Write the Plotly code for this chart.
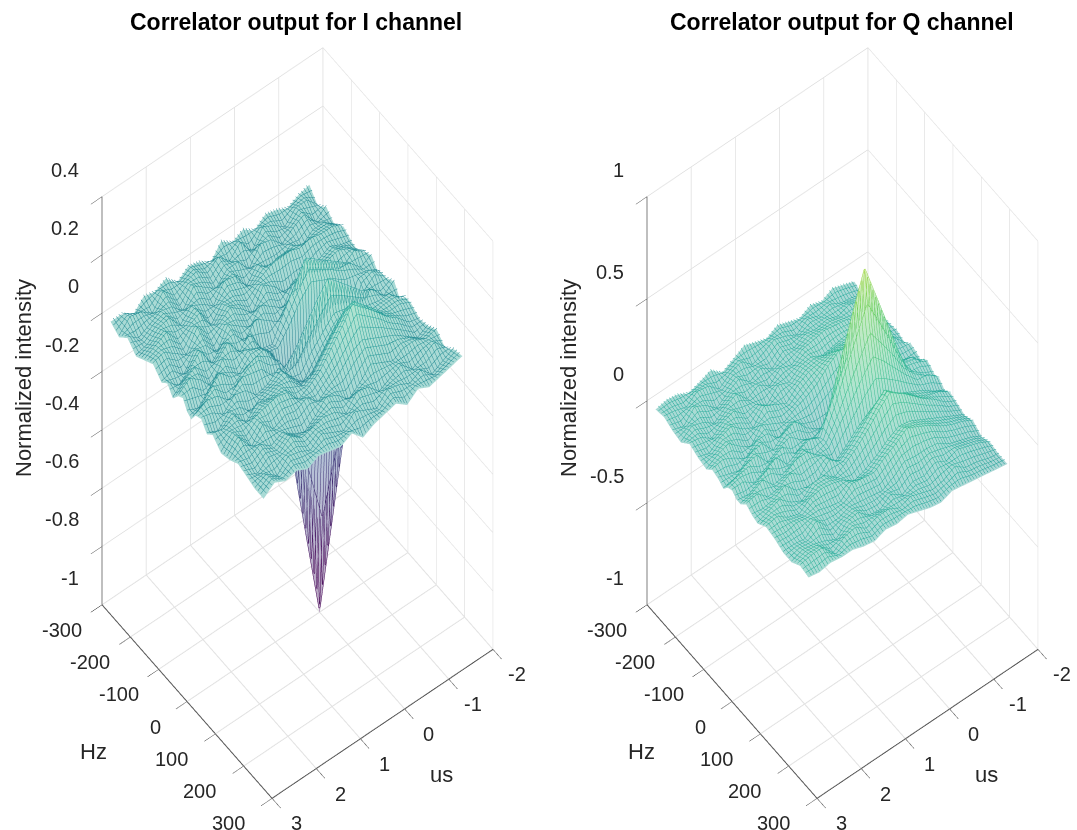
import plotly.graph_objects as go

us_values = [-1.5,-1.25,-1,-.75,-.5,-.25,0,.25,.5,.75,1,1.25,1.5,1.75,2,2.25,2.5,2.75,3]
hz_values = [-270,-240,-210,-180,-150,-120,-90,-70,-50,-30,-15,0,15,30,50,70,90,120,150,180,210,240,270]

i_channel = [
[.02,-.02,.01,-.02,.01,-.01,-.02,.01,.02,-.01,.0,.0,.01,.02,-.02,.01,.01,-.01,.0,.02,-.01,.02,.03],
[.01,.02,-.02,.01,.03,.0,.02,.04,.0,.01,.03,.03,.0,-.01,.02,.03,.03,.0,-.02,.01,.03,.0,.02],
[-.01,.02,.03,.01,.03,.02,.04,.01,.04,.02,.02,.0,.02,.04,.02,.03,.03,.04,.01,.03,.01,-.02,.01],
[.01,-.02,.01,-.02,.04,.0,.03,-.01,.07,.03,-.1,-.25,-.12,.06,.03,.02,.05,.07,.04,.03,-.01,.02,.0],
[.02,.01,-.02,.01,.03,-.02,.04,-.02,.1,.06,-.24,-.5,-.26,.1,.05,.04,.08,.12,.06,.01,.03,.0,.02],
[-.01,.03,.02,-.02,.05,-.03,.03,-.04,.13,.08,-.36,-.75,-.38,.14,.07,.05,.11,.16,.08,.03,.01,.02,-.01],
[.02,-.03,.03,-.02,.05,-.04,.04,-.05,.16,.1,-.45,-1,-.5,.18,.08,.06,.14,.2,.1,.05,-.01,.03,.02],
[.0,.03,-.03,.02,.03,.01,-.03,.02,.09,.06,-.36,-.76,-.38,.13,.04,.02,.1,.14,.08,.01,.03,-.01,.01],
[.03,-.01,.02,-.03,.01,.04,.0,-.03,.02,.0,-.26,-.52,-.27,.07,.0,-.03,.05,.09,.04,-.02,.04,.01,.0],
[-.02,.03,.02,.03,.0,-.03,.03,.0,-.06,-.05,-.13,-.26,-.14,.01,-.05,-.08,.0,.04,.02,.02,-.01,.03,-.02],
[.01,.0,-.02,.04,.02,.01,-.02,.03,-.05,-.04,-.02,-.03,-.02,-.03,-.04,-.02,-.02,.01,-.01,.04,.02,-.01,.02],
[.02,.03,.01,-.02,.02,.04,.01,-.02,.03,.0,.02,.03,.01,-.03,.02,.03,.02,-.01,.03,.0,.03,.01,.0],
[-.01,.02,.04,.01,-.03,.01,.04,.03,-.01,.02,.03,.02,.05,.02,-.01,.01,.03,.04,.01,-.03,.02,.03,.01],
[.03,.0,-.02,.03,.04,.0,-.03,.02,.05,.01,-.02,.0,.04,.03,-.02,.0,.01,.05,.02,-.01,.01,.0,.02],
[.01,.04,.02,-.01,.02,.05,.02,-.02,.01,.04,.02,.01,-.01,.04,.02,-.03,.02,.04,.0,.02,.04,.02,.0],
[.02,-.01,.03,.04,.0,-.02,.03,.05,.0,-.03,.03,.05,.01,-.01,.03,.01,-.02,.03,.04,.0,.01,.03,.02],
[-.02,.02,.01,.03,.05,.01,-.03,.01,.04,.02,-.02,.02,.05,.03,-.01,.02,.03,.01,-.01,.03,.02,-.01,.01],
[.01,.03,-.01,.0,.03,.04,.01,-.02,.02,.05,.02,-.02,.01,.04,.02,-.02,.01,.03,.04,.01,-.01,.02,.03],
[.01,-.01,.02,-.01,.01,.03,.0,.02,-.01,.02,.03,.0,-.01,.02,.03,.0,.02,-.01,.0,.02,.01,.0,.0],
]

q_channel = [
[-.02,-.04,-.02,-.05,-.03,-.02,-.04,-.01,-.02,-.04,.0,-.01,-.03,-.02,-.05,-.03,-.04,-.06,-.04,-.07,-.05,-.06,-.06],
[.0,-.02,.01,-.03,.02,-.01,.02,.0,-.02,.02,.03,.02,.0,.03,-.02,.01,-.01,-.03,-.01,-.04,-.02,-.05,-.05],
[.02,-.01,.03,.01,.04,.02,.05,.02,.0,.03,.05,.03,.06,.04,.02,.03,.04,.0,.01,-.02,.0,-.03,-.04],
[-.01,.02,.01,.04,.03,.06,.08,.04,-.03,-.01,.1,.18,.13,.1,.05,.06,.08,.03,.04,.0,.02,-.02,-.03],
[.01,.0,.03,.05,.04,.07,.1,.05,-.06,-.04,.18,.35,.25,.17,.08,.11,.13,.06,.08,.04,.0,.02,-.02],
[-.02,.02,.02,.06,.03,.08,.12,.06,-.08,-.06,.24,.52,.35,.24,.1,.15,.18,.09,.11,.05,.03,-.01,-.01],
[.0,-.02,.03,.05,.02,.08,.14,.06,-.1,-.08,.3,.69,.45,.3,.12,.2,.22,.1,.14,.05,.0,-.02,-.03],
[.02,.01,.0,.04,.05,.07,.1,.03,-.09,-.07,.22,.52,.34,.23,.09,.15,.17,.07,.1,.06,.01,.0,-.02],
[-.01,.03,.02,.0,.04,.06,.05,.0,-.1,-.06,.14,.34,.23,.15,.05,.09,.11,.03,.07,.02,-.02,.02,.0],
[.01,.0,-.03,.02,.0,.03,.02,-.03,-.07,-.04,.05,.16,.11,.08,.0,.04,.06,.0,.03,-.01,.02,.0,.02],
[.03,-.02,.01,-.03,.02,-.02,.0,-.02,-.03,-.05,-.02,.0,.01,.0,-.04,.0,.02,-.02,.04,.0,-.02,.03,.01],
[.0,.03,-.02,.01,-.04,.01,-.03,.0,.04,-.02,.0,.03,-.02,.0,.03,.04,-.01,.02,.05,.01,-.01,.03,.02],
[-.03,.01,.03,-.02,.0,.04,.0,-.04,.02,.03,-.03,.01,.04,.05,.02,-.02,.03,.04,.0,.02,.04,.01,.0],
[.02,-.03,.0,.04,-.01,-.03,.03,.02,-.03,.01,.04,-.02,.0,.05,.01,-.02,.03,.05,.01,.0,.03,.05,.01],
[.0,.02,-.04,.01,.04,.0,-.04,.02,.04,-.02,.01,.05,-.01,.01,.05,.0,-.02,.04,.03,.0,-.02,.04,.03],
[-.02,.03,.01,-.03,.02,.05,.0,-.03,.03,.05,-.01,.02,.06,.0,.02,.06,.01,.0,.03,.06,.01,.0,.03],
[.01,-.01,.04,.01,-.02,.03,.05,.01,-.02,.04,.05,.0,.03,.06,.01,.03,.06,.02,.04,.01,.03,.06,.04],
[.02,.01,-.02,.03,.02,-.01,.03,.04,.0,.01,.05,.04,.0,.03,.06,.02,.04,.06,.03,.02,.04,.06,.03],
[.01,.02,.0,-.01,.03,.01,.0,.03,.02,.0,.03,.04,.02,.02,.05,.03,.02,.05,.04,.02,.02,.05,.04],
]

i_ticks = [-1,-.8,-.6,-.4,-.2,0,.2,.4]
i_tick_text = ['-1','-0.8','-0.6','-0.4','-0.2','0','0.2','0.4']
q_ticks = [-1,-.5,0,.5,1]
q_tick_text = ['-1','-0.5','0','0.5','1']
us_ticks = [-2,-1,0,1,2,3]
hz_ticks = [-300,-200,-100,0,100,200,300]
titles = ['Correlator output for I channel','Correlator output for Q channel']

TXT = '#262626'
FONT = 'Liberation Sans'
EYE = (.294,.382,.876)
PALE = [[0,'#bba6c2'],[.25,'#b6c0d6'],[.5,'#a9dad5'],[.6,'#b0e4cf'],[.75,'#c4ebc2'],[1,'#fef5a8']]
WIRE = [[0,'#440154'],[.25,'#3b528b'],[.45,'#2a9d9a'],[.5,'#2fae9f'],[.6,'#3cc08f'],[.75,'#6fd05a'],[1,'#fde725']]
FILL_DROP = .006

def transpose(z):
    return [[z[r][c] for r in range(len(z))] for c in range(len(z[0]))]

def traces(z, scene):
    zt = transpose(z)
    fill = go.Surface(x=us_values,y=hz_values,z=[[v-FILL_DROP for v in row] for row in zt],cmin=-1,cmax=1,
        colorscale=PALE,showscale=False,scene=scene,hoverinfo='skip',
        lighting=dict(ambient=1,diffuse=0,specular=0,roughness=1,fresnel=0))
    wire = go.Surface(x=us_values,y=hz_values,z=zt,
        colorscale=WIRE,cmin=-1,cmax=1,showscale=False,scene=scene,hoverinfo='skip',hidesurface=True,
        contours=dict(
            x=dict(show=True,start=-1.5,end=3,size=.0625,usecolormap=True,width=2,highlight=False),
            y=dict(show=True,start=-270,end=270,size=10,usecolormap=True,width=2,highlight=False),
            z=dict(show=False,highlight=False)))
    return [fill,wire]

def ann(x,y,z,text,xa,xs,ys):
    return dict(x=x,y=y,z=z,text=text,showarrow=False,xanchor=xa,yanchor='middle',xshift=xs,yshift=ys,
                font=dict(family=FONT,size=20,color=TXT))

def hz_shift(v):
    return -40 if v<0 else (-32 if v==0 else -44)

def scene(domain, zticks, ztext, zrange):
    anns = [ann(v,300,zrange[0],str(v),'center',24,-25) for v in us_ticks]
    anns += [ann(3,v,zrange[0],str(v),'center',hz_shift(v),-25) for v in hz_ticks]
    anns += [ann(3,-300,v,t,'right',-21,27) for v,t in zip(zticks,ztext)]
    ax = dict(showbackground=False,showspikes=False,zeroline=False,gridcolor='#e2e2e2',gridwidth=2,
              showline=True,linecolor='#555555',linewidth=2,ticks='outside',tickcolor='#444444',ticklen=14,
              showticklabels=False,title=dict(text=''))
    return dict(domain=domain,
        xaxis=dict(ax,range=[-2,3],tickvals=us_ticks),
        yaxis=dict(ax,range=[-300,300],tickvals=hz_ticks),
        zaxis=dict(ax,range=zrange,tickvals=zticks),
        aspectmode='manual',aspectratio=dict(x=.685,y=.685,z=2.08),
        camera=dict(projection=dict(type='orthographic'),up=dict(x=0,y=0,z=1),center=dict(x=0,y=0,z=0),
                    eye=dict(x=EYE[0],y=EYE[1],z=EYE[2])),
        annotations=anns,bgcolor='white')

fig = go.Figure()
for t in traces(i_channel,'scene'): fig.add_trace(t)
for t in traces(q_channel,'scene2'): fig.add_trace(t)
H=830; W=1077
ydom=[0,(H-16)/H]
def lab(text,x,y,size=22,color=TXT,angle=0):
    return dict(text=text,x=x/W,y=1-y/H,xref='paper',yref='paper',xanchor='center',yanchor='middle',showarrow=False,
                textangle=angle,font=dict(family=FONT,size=size,color=color))
fig.update_layout(width=W,height=H,margin=dict(l=0,r=0,t=0,b=0),paper_bgcolor='white',showlegend=False,
    scene=scene(dict(x=[0,595/W],y=ydom),i_ticks,i_tick_text,[-1,.4]),
    scene2=scene(dict(x=[608/W,1],y=ydom),q_ticks,q_tick_text,[-1,1]),
    annotations=[
      lab('<b>%s</b>'%titles[0],296,22,23,'black'),
      lab('<b>%s</b>'%titles[1],842,22,23,'black'),
      lab('Normalized intensity',23,378,22,TXT,-90),
      lab('Normalized intensity',568,378,22,TXT,-90),
      lab('Hz',93,751),lab('Hz',641,751),lab('us',441,774),lab('us',986,774),
    ])
fig.write_html('out.html',post_script="document.body.style.margin='0';",config=dict(displayModeBar=False))
